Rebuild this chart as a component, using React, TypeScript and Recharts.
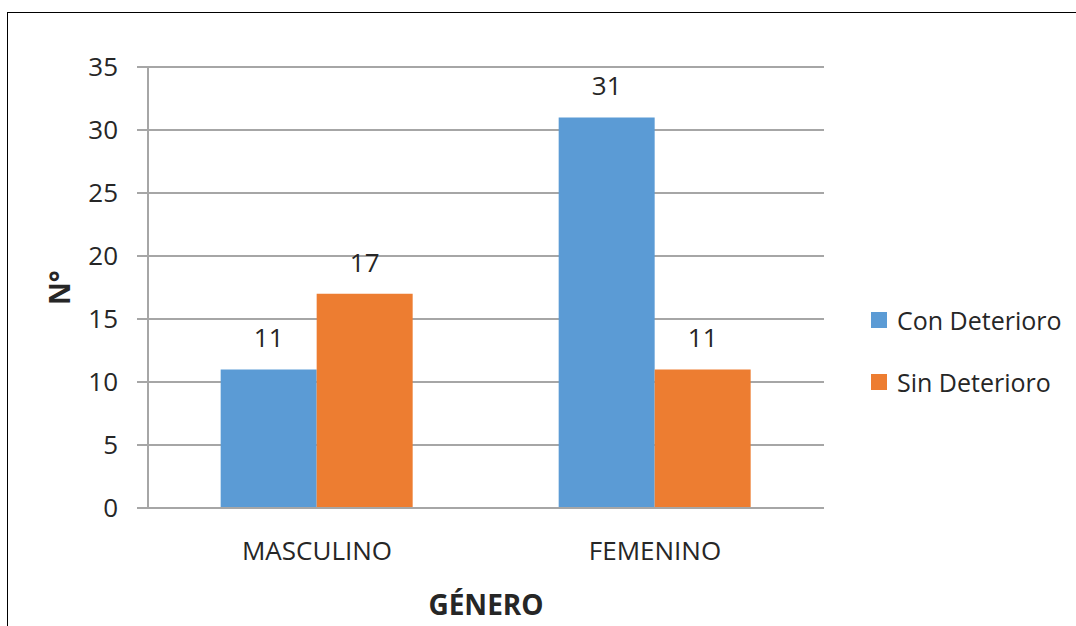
import { BarChart, Bar, XAxis, YAxis, CartesianGrid, Legend, LabelList, Label } from "recharts";

const generos = ["MASCULINO", "FEMENINO"];
const conDeterioro = [11, 31];
const sinDeterioro = [17, 11];
const yTicks = [0, 5, 10, 15, 20, 25, 30, 35];

const series = [
    { key: "con", name: "Con Deterioro", color: "#5B9BD5" },
    { key: "sin", name: "Sin Deterioro", color: "#ED7D31" }
];

const data = generos.map((g, i) => ({ genero: g, con: conDeterioro[i], sin: sinDeterioro[i] }));

const FONT = "'Open Sans', sans-serif";
const TEXT = "#262626";
const GRID = "#A6A6A6";

function LegendList() {
    return (
        <div style={{ fontFamily: FONT, fontSize: 25, color: TEXT }}>
            {series.map((s) => (
                <div key={s.key} style={{ display: "flex", alignItems: "center", height: 62 }}>
                    <span style={{ width: 16, height: 16, background: s.color, marginRight: 10, display: "inline-block" }} />
                    <span>{s.name}</span>
                </div>
            ))}
        </div>
    );
}

export default function App() {
    return (
        <div style={{ position: "fixed", left: 0, top: 0, width: 1076, height: 626, overflow: "hidden", background: "#fff" }}>
            <div style={{ position: "absolute", left: 7, top: 12, width: 1200, height: 800, borderLeft: "1px solid #000", borderTop: "1px solid #000" }} />
            <div style={{ position: "absolute", left: 0, top: 0 }}>
                <BarChart
                    width={1076}
                    height={626}
                    data={data}
                    margin={{ top: 67, right: 252, bottom: 0, left: 0 }}
                    barCategoryGap="21.5%"
                    barGap={0}
                >
                    <CartesianGrid vertical={false} stroke={GRID} strokeWidth={2} />
                    <XAxis
                        dataKey="genero"
                        height={118}
                        stroke={GRID}
                        strokeWidth={2}
                        tickLine={false}
                        tickSize={0}
                        tickMargin={34}
                        tick={{ fill: TEXT, fontSize: 26, fontFamily: FONT }}
                    >
                        <Label value="GÉNERO" position="bottom" offset={-31} fill={TEXT} fontSize={28} fontWeight="bold" fontFamily={FONT} />
                    </XAxis>
                    <YAxis
                        width={148}
                        domain={[0, 35]}
                        ticks={yTicks}
                        interval={0}
                        stroke={GRID}
                        strokeWidth={2}
                        tickSize={11}
                        tickMargin={19}
                        tick={{ fill: TEXT, fontSize: 26, fontFamily: FONT }}
                    >
                        <Label
                            content={({ viewBox }: any) => {
                                const cx = viewBox.x + 59;
                                const cy = viewBox.y + viewBox.height / 2;
                                return (
                                    <text
                                        x={cx}
                                        y={cy}
                                        transform={`rotate(-90, ${cx}, ${cy})`}
                                        textAnchor="middle"
                                        dominantBaseline="central"
                                        fill={TEXT}
                                        fontSize={28}
                                        fontWeight="bold"
                                        fontFamily={FONT}
                                    >
                                        N°
                                    </text>
                                );
                            }}
                        />
                    </YAxis>
                    {/* centred + middle keeps the legend from reserving plot space; it is placed by wrapperStyle */}
                    <Legend
                        layout="horizontal"
                        verticalAlign="middle"
                        align="center"
                        content={() => <LegendList />}
                        wrapperStyle={{ left: 871, top: 289, width: 205 }}
                    />
                    {series.map((s) => (
                        <Bar key={s.key} dataKey={s.key} name={s.name} fill={s.color} isAnimationActive={false}>
                            <LabelList dataKey={s.key} position="top" offset={22} fill={TEXT} fontSize={26} fontFamily={FONT} />
                        </Bar>
                    ))}
                </BarChart>
            </div>
        </div>
    );
}
